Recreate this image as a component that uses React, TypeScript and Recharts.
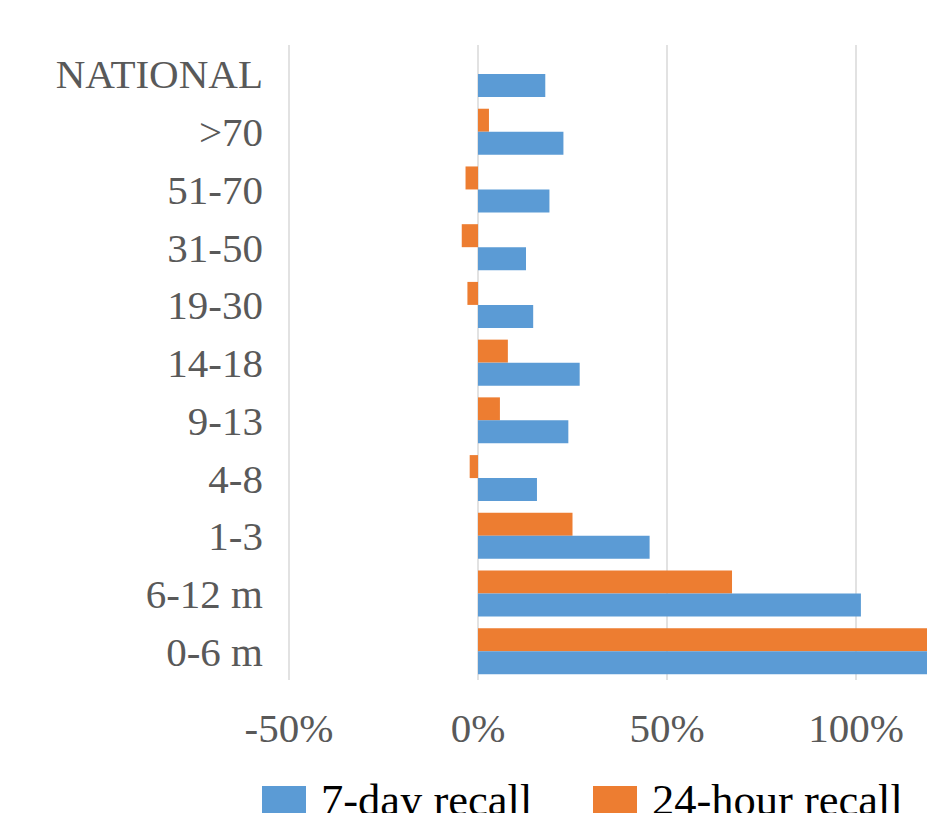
import React from "react";
import { BarChart, Bar, XAxis, YAxis, CartesianGrid, Legend } from "recharts";

// Age groups, top to bottom
const groups = ["NATIONAL", ">70", "51-70", "31-50", "19-30", "14-18", "9-13", "4-8", "1-3", "6-12 m", "0-6 m"];

// Change in percent, per recall period
const sevenDayRecall = [17.8, 22.6, 18.9, 12.7, 14.6, 26.9, 23.9, 15.6, 45.4, 101.3, 138];
const dayRecall24 = [null, 2.9, -3.3, -4.3, -2.8, 7.9, 5.8, -2.2, 25.0, 67.2, 131];

const xTicks = [-50, 0, 50, 100, 150];

const BLUE = "#5B9BD5";
const ORANGE = "#ED7D31";
const FONT = "'Liberation Serif', 'Times New Roman', serif";

const data = groups.map((group, i) => ({
  group,
  sevenDay: sevenDayRecall[i],
  day24: dayRecall24[i],
}));

function RecallLegend() {
  const items = [
    { label: "7-day recall", color: BLUE, left: 262 },
    { label: "24-hour recall", color: ORANGE, left: 593 },
  ];
  return (
    <div style={{ position: "relative", height: 74, width: "100%" }}>
      {items.map((item) => (
        <div key={item.label}>
          <div
            style={{
              position: "absolute",
              left: item.left,
              top: 0,
              width: 44,
              height: 44,
              background: item.color,
            }}
          />
          <span
            style={{
              position: "absolute",
              left: item.left + 59,
              top: -8,
              fontFamily: FONT,
              fontSize: 44.5,
              lineHeight: 1,
              color: "#000",
              whiteSpace: "nowrap",
            }}
          >
            {item.label}
          </span>
        </div>
      ))}
    </div>
  );
}

export default function App() {
  return (
    <div style={{ position: "absolute", left: 0, top: 0, width: 927, height: 813, overflow: "hidden", background: "#fff" }}>
      <BarChart
        width={1100}
        height={900}
        data={data}
        layout="vertical"
        barGap={0}
        barSize={23}
        margin={{ top: 45, right: 55, bottom: 40, left: 0 }}
      >
        <CartesianGrid horizontal={false} stroke="#d9d9d9" strokeWidth={1.5} />
        <XAxis
          type="number"
          domain={[-50, 150]}
          ticks={xTicks}
          allowDataOverflow
          height={106}
          axisLine={false}
          tickLine={false}
          tickSize={0}
          tickMargin={33}
          tickFormatter={(v) => `${v}%`}
          tick={{ fill: "#595959", fontSize: 41, fontFamily: FONT }}
        />
        <YAxis
          type="category"
          dataKey="group"
          width={289}
          axisLine={false}
          tickLine={false}
          tickSize={0}
          tickMargin={26}
          interval={0}
          tick={{ fill: "#595959", fontSize: 41, fontFamily: FONT }}
        />
        <Legend verticalAlign="bottom" content={() => <RecallLegend />} />
        <Bar dataKey="day24" name="24-hour recall" fill={ORANGE} isAnimationActive={false} />
        <Bar dataKey="sevenDay" name="7-day recall" fill={BLUE} isAnimationActive={false} />
      </BarChart>
    </div>
  );
}
